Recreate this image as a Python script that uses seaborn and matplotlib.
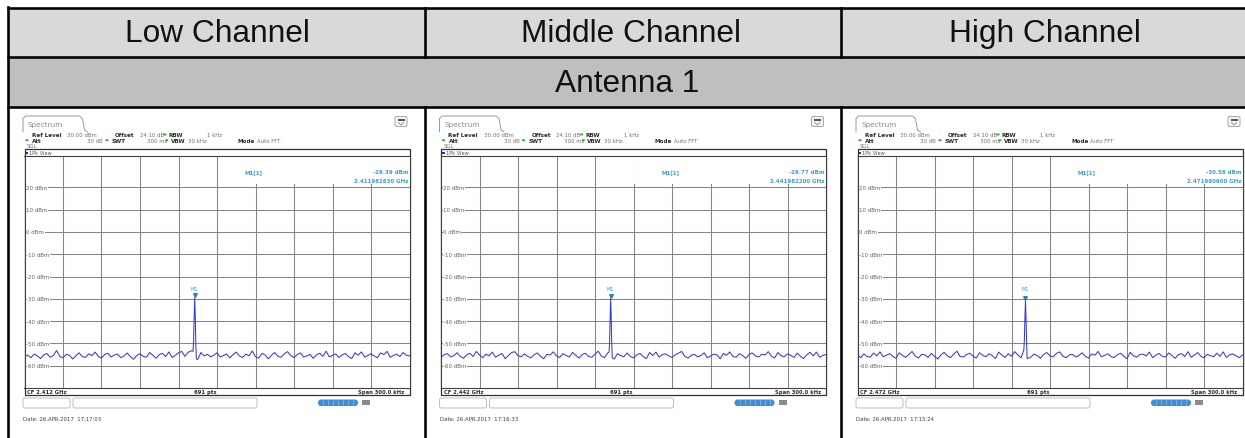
import matplotlib
matplotlib.use("Agg")
import matplotlib.pyplot as plt
from matplotlib.patches import Rectangle, FancyBboxPatch
import numpy as np
import pandas as pd
import seaborn as sns

# ---- data ----
channels = ["Low Channel", "Middle Channel", "High Channel"]
antenna_label = "Antenna 1"
centre_freqs = ["2.412", "2.442", "2.472"]
marker_freqs = ["2.411982630", "2.441982200", "2.471980900"]
marker_offset_khz = [-17.37, -17.80, -19.10]
marker_levels = [-29.39, -29.77, -30.58]
timestamps = ["17:17:03", "17:16:33", "17:15:24"]
level_ticks = [20, 10, 0, -10, -20, -30, -40, -50, -60]

spike_offsets_khz = [-1.30, -0.87, -0.43, 0.0, 0.43, 0.87, 1.30]
spike_low = [-53.5, -49.0, -38.0, -29.39, -37.5, -50.5, -57.0]
spike_mid = [-54.0, -50.0, -39.0, -29.77, -38.5, -51.0, -56.5]
spike_high = [-53.0, -48.5, -38.5, -30.58, -39.0, -50.0, -56.8]

noise_low = [
    -56.0, -55.2, -56.4, -54.8, -55.6, -56.8, -55.1, -54.6, -56.2, -55.4,
    -53.2, -55.8, -56.5, -54.9, -55.3, -57.0, -55.6, -54.2, -55.9, -56.3,
    -54.7, -55.5, -53.9, -55.8, -56.6, -55.0, -54.4, -56.1, -55.2, -54.8,
    -56.4, -55.7, -54.3, -55.9, -57.1, -55.4, -54.6, -55.8, -56.2, -54.1,
    -55.3, -56.7, -55.0, -54.5, -55.9, -53.8, -56.3, -55.4, -54.2, -53.6,
    -55.8, -54.0, -53.3, -55.5, -57.2, -54.1, -55.6, -54.9, -56.0, -55.3,
    -54.2, -56.1, -55.4, -54.7, -56.5, -55.0, -53.9, -55.7, -56.3, -54.8,
    -55.6, -53.4, -55.9, -56.6, -54.5, -55.2, -56.9, -55.3, -54.1, -55.8,
    -56.2, -54.6, -53.7, -55.5, -56.4, -55.0, -54.3, -56.1, -55.6, -54.9,
    -56.7, -55.1, -54.4, -55.8, -53.5, -56.0, -55.4, -54.7, -56.3, -55.2,
    -54.5, -55.9, -56.8, -54.2, -55.3, -53.8, -56.1, -55.5, -54.6, -55.7,
    -56.4, -54.3, -55.0, -53.6, -56.2, -55.4, -54.8, -55.9, -54.1, -55.3,
    -55.6,
]
noise_mid = [
    -56.3, -55.0, -54.6, -56.1, -55.5, -54.2, -55.8, -56.7, -55.1, -54.4,
    -55.9, -53.6, -55.2, -56.4, -54.8, -55.6, -53.9, -56.2, -55.3, -54.5,
    -56.8, -55.4, -54.1, -53.7, -55.5, -56.0, -54.7, -55.8, -56.5, -55.1,
    -54.3, -55.7, -56.9, -54.9, -55.2, -53.8, -55.6, -56.3, -54.6, -55.4,
    -56.1, -54.0, -55.3, -56.6, -55.0, -54.4, -55.9, -56.2, -54.8, -53.5,
    -55.7, -56.4, -54.2, -55.1, -57.0, -54.6, -55.5, -56.0, -54.3, -55.8,
    -56.5, -55.2, -54.5, -55.9, -56.8, -54.1, -55.4, -53.9, -56.2, -55.0,
    -54.7, -55.6, -56.3, -55.1, -54.4, -53.6, -55.8, -56.6, -55.3, -54.9,
    -56.0, -55.5, -54.2, -56.4, -55.7, -54.8, -55.1, -56.9, -54.5, -55.3,
    -53.8, -55.9, -56.2, -54.6, -55.4, -56.7, -55.0, -54.3, -55.6, -56.1,
    -54.9, -55.2, -53.7, -55.8, -56.5, -54.1, -55.5, -56.0, -54.7, -55.3,
    -56.3, -54.4, -55.7, -56.8, -55.1, -54.0, -55.6, -53.9, -56.2, -55.4,
    -55.0,
]
noise_high = [
    -55.2, -56.4, -54.7, -55.9, -56.1, -54.3, -55.6, -53.8, -56.0, -55.3,
    -54.6, -55.8, -56.7, -54.2, -55.4, -56.2, -55.0, -53.6, -55.7, -56.5,
    -54.9, -55.1, -56.3, -54.5, -55.8, -57.0, -55.2, -54.0, -55.6, -56.4,
    -54.8, -53.5, -55.9, -56.1, -55.0, -54.4, -55.7, -56.6, -54.2, -55.3,
    -56.0, -54.7, -55.5, -56.8, -53.9, -55.2, -56.3, -54.6, -55.8, -53.7,
    -55.1, -56.5, -54.3, -55.9, -56.2, -54.8, -55.4, -56.7, -55.0, -54.1,
    -55.6, -56.0, -54.5, -53.8, -55.7, -56.4, -55.2, -54.9, -56.1, -55.5,
    -54.2, -55.8, -56.6, -54.7, -55.3, -53.6, -56.0, -55.4, -54.6, -55.9,
    -56.3, -55.1, -54.4, -55.7, -56.9, -54.0, -55.5, -56.2, -55.0, -54.8,
    -55.6, -53.9, -56.4, -55.2, -54.5, -55.8, -56.1, -54.3, -55.4, -56.7,
    -55.0, -54.6, -55.9, -53.7, -56.2, -55.3, -54.1, -55.7, -56.5, -54.9,
    -55.5, -56.0, -54.4, -55.8, -53.8, -56.3, -55.1, -54.7, -55.6, -56.4,
    -55.2,
]
noise_sets = [noise_low, noise_mid, noise_high]
spike_sets = [spike_low, spike_mid, spike_high]

# ---- layout (pixels) ----
W, H = 1245, 439
HEAD_FONT = "Liberation Sans"
TRACE = "#3b3bc8"
TEAL = "#3a9fcc"
GREEN = "#3daa3d"
GRID = "#858585"

plt.rcParams["font.family"] = ["DejaVu Sans"]
fig = plt.figure(figsize=(W / 100, H / 100), dpi=100)
page = fig.add_axes([0, 0, 1, 1])
page.set_xlim(0, W)
page.set_ylim(H, 0)
page.axis("off")


def px(v):
    return v * 0.72


# table
page.add_patch(Rectangle((8, 9), W, 49, fc="#d9d9d9", ec="none"))
page.add_patch(Rectangle((8, 58), W, 50, fc="#bfbfbf", ec="none"))
lw = px(2.6)
for y in (9, 58, 108):
    page.plot([7, W + 2], [y, y], color="black", lw=lw, solid_capstyle="butt")
page.plot([8, 8], [8, H], color="black", lw=lw)
for x in (425, 841):
    page.plot([x, x], [9, 58], color="black", lw=lw)
    page.plot([x, x], [108, H], color="black", lw=lw)
for i, name in enumerate(channels):
    page.text(217 + 414 * i, 34, name, ha="center", va="center",
              fontsize=22.8, family=HEAD_FONT, color="#111111")
page.text(627, 83.5, antenna_label, ha="center", va="center",
          fontsize=22.8, family=HEAD_FONT, color="#111111")


def info_line(x0, y, parts):
    for dx, txt, kind in parts:
        if kind == "dot":
            page.add_patch(FancyBboxPatch((x0 + dx - 1.6, y - 1.0), 3.2, 2.0,
                                          boxstyle="round,pad=0,rounding_size=1",
                                          fc=GREEN, ec="none"))
        elif kind == "b":
            page.text(x0 + dx, y, txt, fontsize=4.1, weight="bold",
                      color="#2a2a2a", va="center", ha="left")
        else:
            page.text(x0 + dx, y, txt, fontsize=3.9, color="#707070",
                      va="center", ha="left")


def draw_screen(i):
    x0 = 24.5 + 416.5 * i
    # tab + icon
    tab_x = [x0 - 1.5, x0 - 1.5, x0 + 1, x0 + 55, x0 + 58, x0 + 60, x0 + 63]
    tab_y = [133, 119.5, 117, 117, 119.5, 131, 133]
    page.plot(tab_x, tab_y, color="#8a8a8a", lw=0.6)
    page.text(x0 + 3.5, 125, "Spectrum", fontsize=5.2, color="#8a8a8a",
              va="center", ha="left")
    page.add_patch(FancyBboxPatch((x0 + 370.5, 117.5), 12, 10,
                                  boxstyle="round,pad=0,rounding_size=1.5",
                                  fc="#f4f4f4", ec="#9a9a9a", lw=0.6))
    page.add_patch(Rectangle((x0 + 373, 119.5), 7, 2.5, fc="#555555", ec="none"))
    page.plot([x0 + 374, x0 + 376.5, x0 + 379], [123.5, 126, 123.5],
              color="#777777", lw=0.5)

    info_line(x0, 135.5, [(7.5, "Ref Level", "b"), (42.5, "30.00 dBm", "n"),
                          (90.5, "Offset", "b"), (115.5, "24.10 dB", "n"),
                          (140.5, "", "dot"), (144.0, "RBW", "b"),
                          (182.5, "1 kHz", "n")])
    info_line(x0, 141.2, [(2.5, "", "dot"), (7.5, "Att", "b"),
                          (62.5, "30 dB", "n"), (82.5, "", "dot"),
                          (87.5, "SWT", "b"), (122.5, "300 ms", "n"),
                          (142.3, "", "dot"), (146.0, "VBW", "b"),
                          (163.5, "30 kHz", "n"), (213.5, "Mode", "b"),
                          (232.5, "Auto FFT", "n")])
    info_line(x0, 147, [(2.5, "SGL", "n")])

    # view frame
    page.add_patch(Rectangle((x0, 150), 385, 246, fc="none", ec="#303030",
                             lw=0.9))
    page.add_patch(Rectangle((x0 + 1, 152.5), 2.6, 2.6, fc="#2c2cb0", ec="none"))
    page.text(x0 + 4.5, 153.8, "1Pk View", fontsize=3.6, color="#555555",
              va="center", ha="left")
    page.text(x0 + 2.5, 392.5, f"CF {centre_freqs[i]} GHz", fontsize=3.8,
              weight="bold", color="#2a2a2a", va="center", ha="left")
    page.text(x0 + 180.5, 392.5, "691 pts", fontsize=3.8, weight="bold",
              color="#2a2a2a", va="center", ha="center")
    page.text(x0 + 380, 392.5, "Span 300.0 kHz", fontsize=3.8, weight="bold",
              color="#2a2a2a", va="center", ha="right")

    # status bar + date
    page.add_patch(FancyBboxPatch((x0 - 1.5, 399), 47, 10,
                                  boxstyle="round,pad=0,rounding_size=2",
                                  fc="white", ec="#b5b5b5", lw=0.6))
    page.add_patch(FancyBboxPatch((x0 + 48.5, 399), 184, 10,
                                  boxstyle="round,pad=0,rounding_size=2",
                                  fc="white", ec="#b5b5b5", lw=0.6))
    page.add_patch(FancyBboxPatch((x0 + 293.5, 400.5), 40, 6.5,
                                  boxstyle="round,pad=0,rounding_size=3",
                                  fc="#3d8ed8", ec="none"))
    for k in range(1, 8):
        bx = x0 + 293.5 + 5 * k
        page.plot([bx, bx], [401.5, 406], color="#9cc6ee", lw=0.4)
    page.add_patch(Rectangle((x0 + 337.5, 401), 8, 5, fc="#8a8a8a", ec="none"))
    page.text(x0 - 1.5, 420, f"Date: 26.APR.2017  {timestamps[i]}",
              fontsize=3.9, color="#404040", va="center", ha="left")

    # spectrum diagram
    top_px, bot_px = 157, 389
    ax = fig.add_axes([x0 / W, 1 - bot_px / H, 385 / W, (bot_px - top_px) / H])
    y_top = -70 + (bot_px - top_px) / 2.23
    ax.set_xlim(-150, 150)
    ax.set_ylim(-70, y_top)
    ax.set_xticks(np.arange(-120, 150, 30))
    ax.set_yticks(level_ticks)
    ax.tick_params(length=0, labelbottom=False, labelleft=False)
    ax.grid(True, color=GRID, lw=0.75)
    ax.set_axisbelow(True)
    for sp in ax.spines.values():
        sp.set_color("#404040")
        sp.set_linewidth(0.8)

    ax.add_patch(Rectangle((0.5, 21.3), 149.5, 20, fc="white", ec="none",
                           zorder=1.5))
    for v in level_ticks:
        ax.text(-148.5, v, f"{v} dBm", ha="left", va="center", fontsize=4.0,
                color="#606060", zorder=2,
                bbox=dict(fc="white", ec="none", pad=0.3))

    peak = marker_offset_khz[i]
    noise = noise_sets[i]
    f_noise = np.linspace(-150, 150, len(noise))
    keep = np.abs(f_noise - peak) > 2.0
    f_all = np.concatenate([f_noise[keep], peak + np.array(spike_offsets_khz)])
    d_all = np.concatenate([np.array(noise)[keep], spike_sets[i]])
    df = pd.DataFrame({"khz": f_all, "dbm": d_all}).sort_values("khz")
    sns.lineplot(data=df, x="khz", y="dbm", ax=ax, color=TRACE, lw=0.75,
                 estimator=None, zorder=3)
    ax.set_xlabel("")
    ax.set_ylabel("")

    ax.plot([peak], [marker_levels[i] + 1.0], marker="v", ms=2.6,
            color="#2f7fb5", zorder=4, ls="none")
    ax.text(peak, -25.6, "M1", ha="center", va="center", fontsize=3.6,
            color=TEAL, zorder=4)
    ax.text(21.8, 26.9, "M1[1]", ha="left", va="center", fontsize=4.0,
            color=TEAL, weight="bold", zorder=4)
    ax.text(149, 26.9, f"{marker_levels[i]:.2f} dBm", ha="right",
            va="center", fontsize=4.0, color=TEAL, weight="bold", zorder=4)
    ax.text(149, 23.0, f"{marker_freqs[i]} GHz", ha="right", va="center",
            fontsize=4.0, color=TEAL, weight="bold", zorder=4)


for i in range(3):
    draw_screen(i)

fig.savefig("out.png", dpi=100)
